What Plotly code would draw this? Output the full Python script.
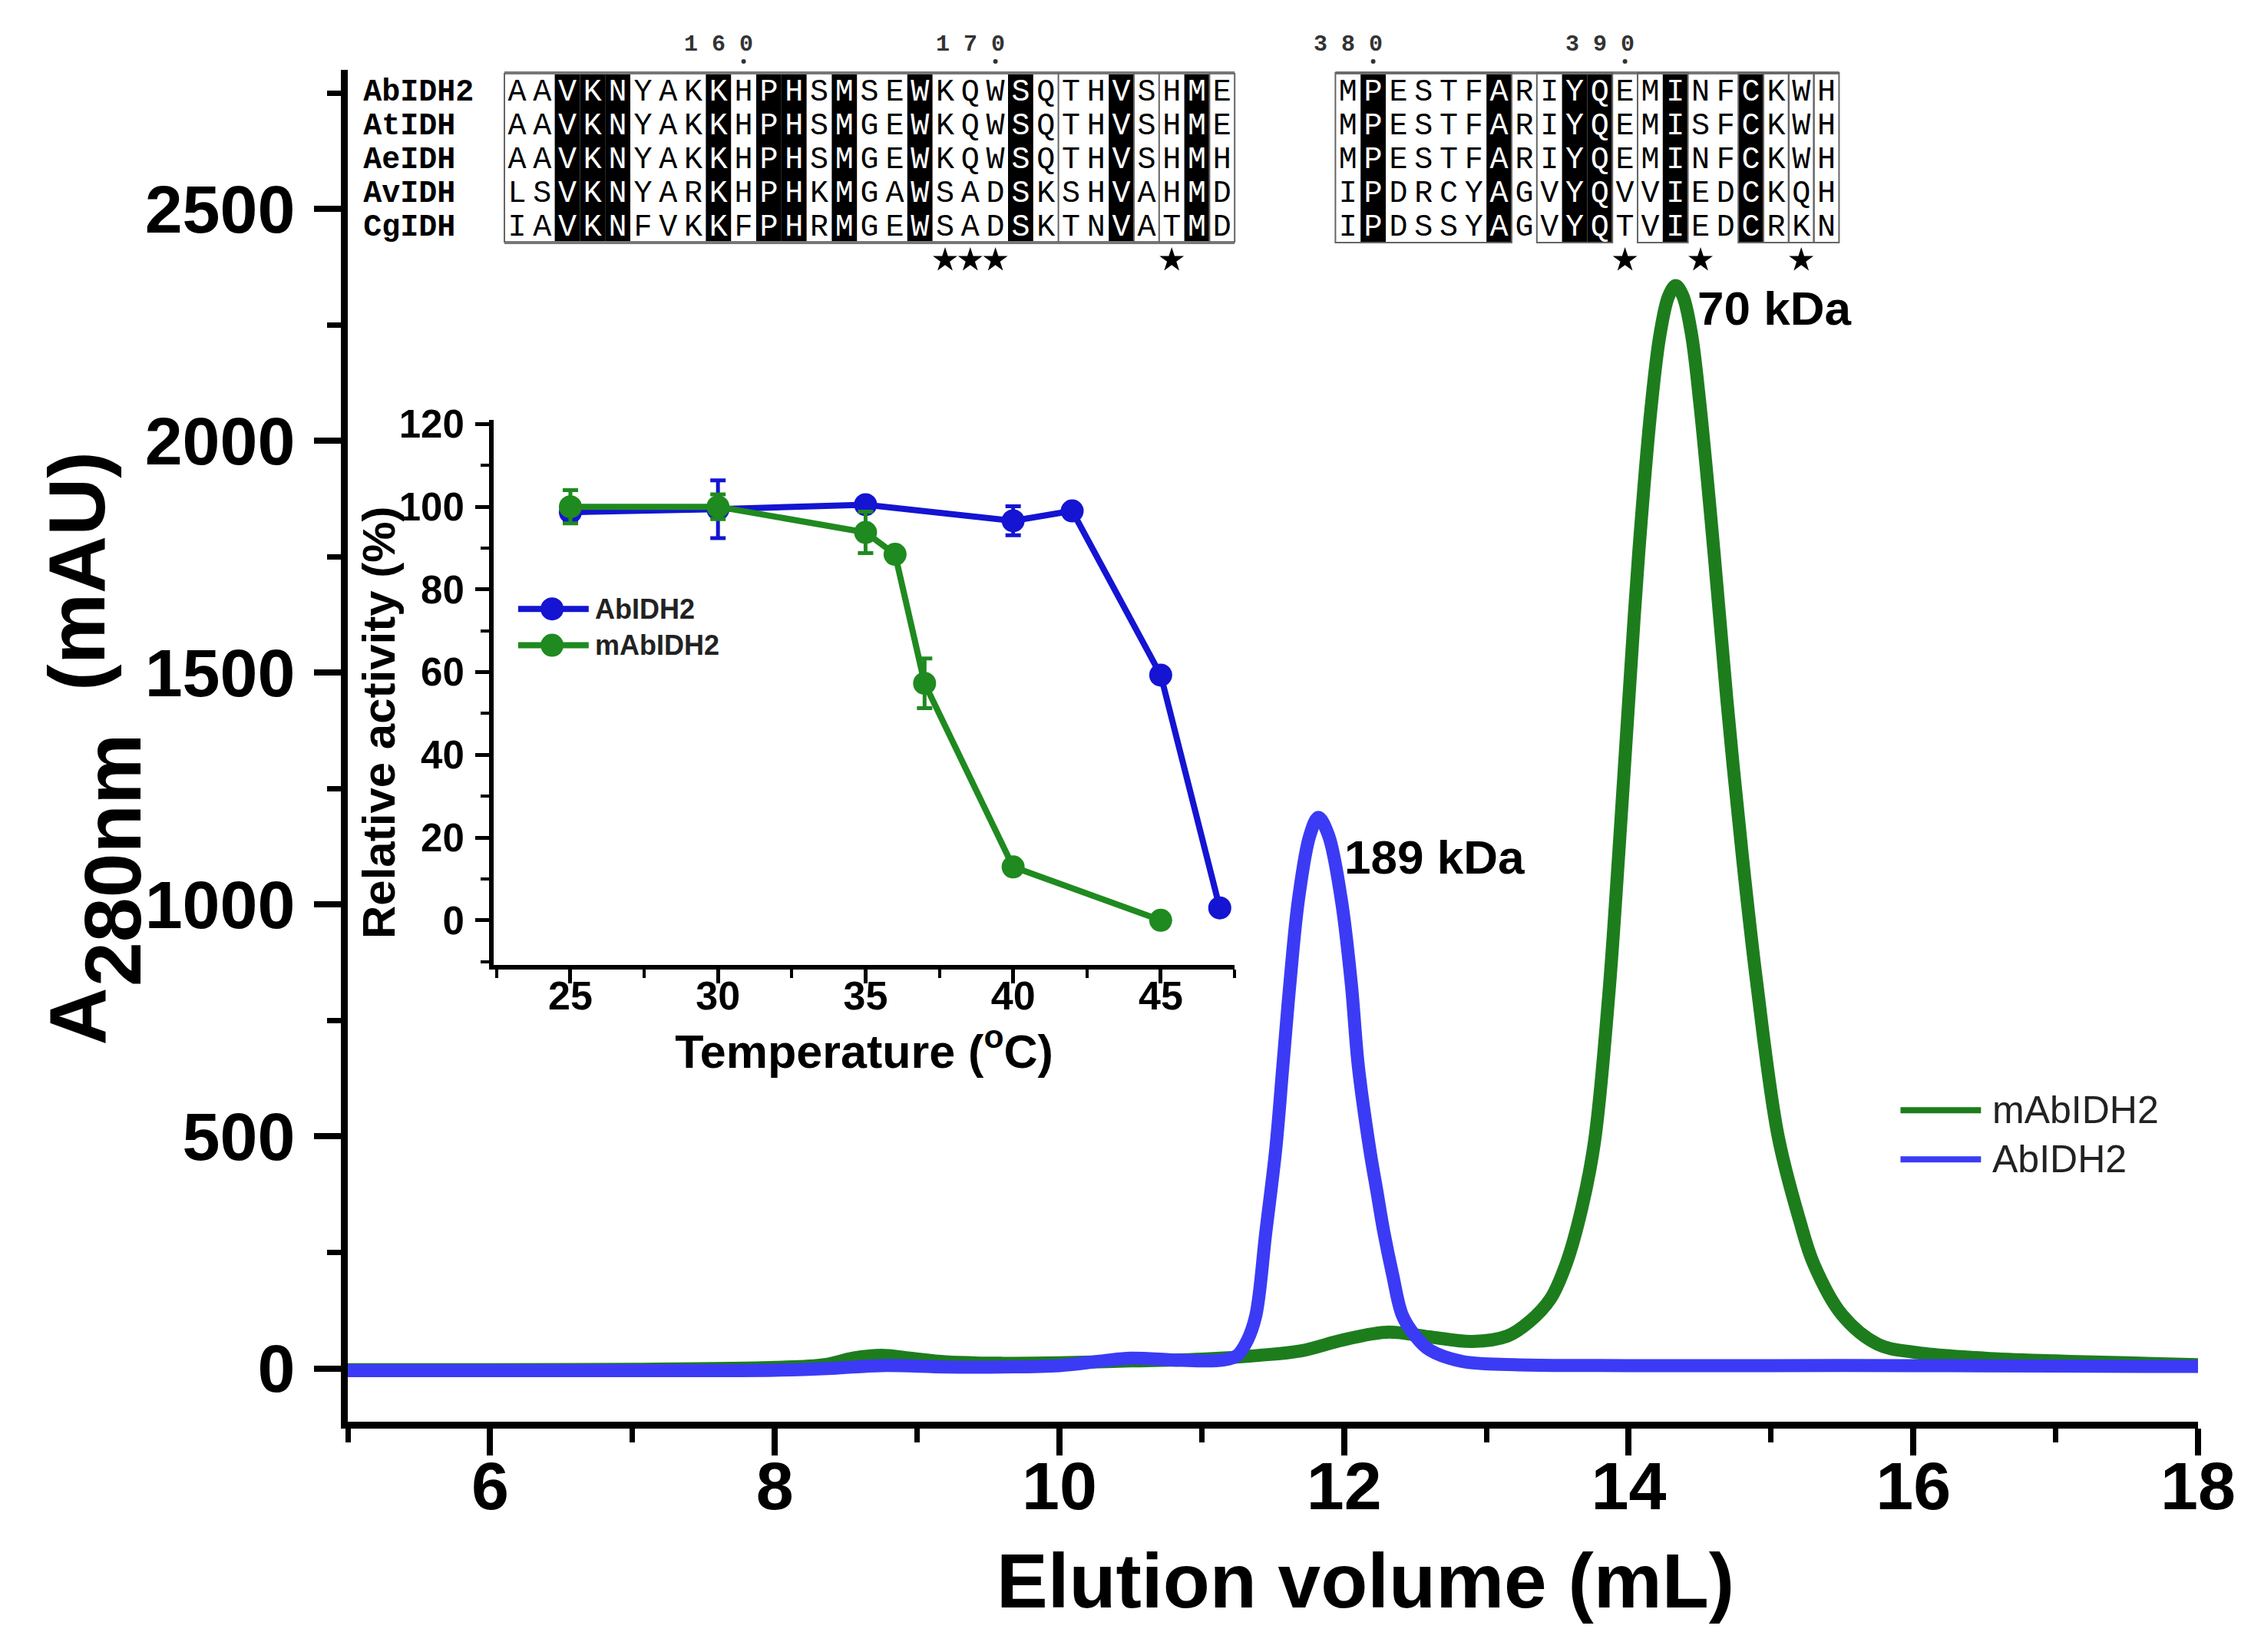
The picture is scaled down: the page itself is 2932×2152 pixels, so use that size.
import plotly.graph_objects as go

# size-exclusion profiles, A280 (mAU) vs elution volume (mL)
mut_vol = [5.0, 6.0, 7.0, 8.0, 8.35, 8.55, 8.75, 8.95, 9.2, 9.6, 10.0, 10.5, 11.0, 11.4, 11.7,
           12.0, 12.3, 12.6, 12.9, 13.15, 13.3, 13.45, 13.56, 13.67, 13.76, 13.86, 13.93, 14.0,
           14.07, 14.16, 14.22, 14.28, 14.33, 14.38, 14.44, 14.5, 14.6, 14.69, 14.8, 14.9, 15.05,
           15.2, 15.3, 15.5, 15.75, 16.0, 16.5, 17.0, 17.5, 18.0]
mut_a280 = [-3, -3, -2, 2, 8, 22, 28, 22, 14, 11, 12, 16, 20, 28, 38,
            62, 78, 68, 58, 70, 100, 150, 225, 345, 490, 806, 1110, 1440,
            1757, 2080, 2230, 2312, 2335, 2313, 2232, 2080, 1757, 1440, 1100, 830, 500,
            320, 225, 115, 52, 35, 22, 16, 12, 8]
wt_vol = [5.0, 6.0, 7.0, 8.0, 8.4, 8.75, 9.2, 9.6, 10.0, 10.3, 10.5, 10.8, 11.0, 11.15, 11.25,
          11.32, 11.38, 11.45, 11.52, 11.57, 11.62, 11.68, 11.76, 11.82, 11.89, 11.98, 12.05,
          12.1, 12.18, 12.23, 12.28, 12.34, 12.41, 12.5, 12.6, 12.83, 13.2, 14.0, 15.0, 16.0,
          17.0, 18.0]
wt_a280 = [-5, -5, -5, -4, 0, 6, 3, 3, 6, 16, 22, 18, 16, 18, 28,
           60, 114, 293, 473, 652, 832, 1012, 1150, 1188, 1150, 1012, 832,
           652, 473, 383, 293, 204, 114, 70, 40, 15, 8, 6, 6, 6,
           5, 4]

# inset: relative activity (%) after heat treatment
wt_temp = [25, 30, 35, 40, 42, 45, 47]
wt_act = [98.7, 99.4, 100.5, 96.6, 99.0, 59.3, 3.0]
wt_err = [2, 7, 1, 3.5, 1, 1, 0.5]
mut_temp = [25, 30, 35, 36, 37, 40, 45]
mut_act = [100, 100, 93.8, 88.5, 57.3, 12.9, 0]
mut_err = [4, 3, 5, 1, 6, 1, 0.5]

# partial alignment
seq_names = ["AbIDH2", "AtIDH", "AeIDH", "AvIDH", "CgIDH"]
seq_block1 = ["AAVKNYAKKHPHSMSEWKQWSQTHVSHME",
              "AAVKNYAKKHPHSMGEWKQWSQTHVSHME",
              "AAVKNYAKKHPHSMGEWKQWSQTHVSHMH",
              "LSVKNYARKHPHKMGAWSADSKSHVAHMD",
              "IAVKNFVKKFPHRMGEWSADSKTNVATMD"]
seq_block2 = ["MPESTFARIYQEMINFCKWH",
              "MPESTFARIYQEMISFCKWH",
              "MPESTFARIYQEMINFCKWH",
              "IPDRCYAGVYQVVIEDCKQH",
              "IPDSSYAGVYQTVIEDCRKN"]
first1, first2 = 151, 379
black1 = [2, 3, 4, 8, 10, 11, 13, 16, 20, 24, 27]
black2 = [1, 6, 9, 10, 13, 16]
edges1 = [0, 22, 25, 26, 28, 29]
boxes2 = [(0, 7), (8, 11), (12, 14), (16, 17), (17, 18), (18, 19), (19, 20)]
stars1 = [17, 18, 19, 26]
stars2 = [11, 14, 18]
ruler1 = [160, 170]
ruler2 = [380, 390]

GREEN = "#1d7d1d"
BLUE = "#3b3bf5"
IN_BLUE = "#1414d2"
IN_GREEN = "#1f8a1f"
FONT = "Liberation Sans, Arial, sans-serif"
MONO = "Liberation Mono, Courier New, monospace"
OFF = 33  # column offset of second block

# figure pixel frame used for paper placement
W, H = 2932, 2152
ML, MR, MT, MB = 445, 77, 83, 308
PW, PH = W - ML - MR, H - MT - MB
COL0, COLW = 649, 32.8  # first alignment column (px) and column width


def px_x(p):
    return (p - ML) / PW


def px_y(p):
    return (H - MB - p) / PH


fig = go.Figure()

# main curves
fig.add_trace(go.Scatter(x=mut_vol, y=mut_a280, mode="lines", name="mAbIDH2",
                         line=dict(color=GREEN, width=17, shape="spline", smoothing=1.0)))
fig.add_trace(go.Scatter(x=wt_vol, y=wt_a280, mode="lines", name="AbIDH2",
                         line=dict(color=BLUE, width=17, shape="spline", smoothing=1.0)))

# inset curves
fig.add_trace(go.Scatter(x=wt_temp, y=wt_act, xaxis="x2", yaxis="y2", mode="lines+markers",
                         name="AbIDH2", line=dict(color=IN_BLUE, width=8),
                         marker=dict(size=30, color=IN_BLUE),
                         error_y=dict(type="data", array=wt_err, color=IN_BLUE, thickness=5, width=10),
                         cliponaxis=False))
fig.add_trace(go.Scatter(x=mut_temp, y=mut_act, xaxis="x2", yaxis="y2", mode="lines+markers",
                         name="mAbIDH2", line=dict(color=IN_GREEN, width=8),
                         marker=dict(size=30, color=IN_GREEN),
                         error_y=dict(type="data", array=mut_err, color=IN_GREEN, thickness=5, width=10),
                         cliponaxis=False))

# alignment letters
xs, ys, txt, cols = [], [], [], []
for r in range(len(seq_names)):
    for c, ch in enumerate(seq_block1[r]):
        xs.append(c + 0.5); ys.append(r); txt.append(ch)
        cols.append("white" if c in black1 else "black")
    for c, ch in enumerate(seq_block2[r]):
        xs.append(OFF + c + 0.5); ys.append(r); txt.append(ch)
        cols.append("white" if c in black2 else "black")
fig.add_trace(go.Scatter(x=xs, y=ys, text=txt, mode="text", xaxis="x3", yaxis="y3",
                         textfont=dict(family=MONO, size=40, color=cols), cliponaxis=False,
                         hoverinfo="skip"))
fig.add_trace(go.Scatter(x=[-5.6] * len(seq_names), y=list(range(len(seq_names))), text=seq_names,
                         mode="text", textposition="middle right", xaxis="x3", yaxis="y3",
                         textfont=dict(family=MONO, size=40, color="black", weight="bold"),
                         cliponaxis=False, hoverinfo="skip"))
star_x = [c + 0.5 for c in stars1] + [OFF + c + 0.5 for c in stars2]
fig.add_trace(go.Scatter(x=star_x, y=[4.95] * len(star_x), mode="markers", xaxis="x3", yaxis="y3",
                         marker=dict(symbol="star", size=24, color="black"), cliponaxis=False,
                         hoverinfo="skip"))

shapes = []
TOP, BOT = -0.59, 4.43
for c in black1:
    shapes.append(dict(type="rect", xref="x3", yref="y3", x0=c, x1=c + 1, y0=TOP, y1=BOT,
                       fillcolor="black", line_width=0, layer="below"))
for c in black2:
    shapes.append(dict(type="rect", xref="x3", yref="y3", x0=OFF + c, x1=OFF + c + 1, y0=TOP, y1=BOT,
                       fillcolor="black", line_width=0, layer="below"))
for y in (TOP, BOT):
    shapes.append(dict(type="line", xref="x3", yref="y3", x0=0, x1=len(seq_block1[0]), y0=y, y1=y,
                       line=dict(color="#777", width=4)))
shapes.append(dict(type="line", xref="x3", yref="y3", x0=OFF, x1=OFF + len(seq_block2[0]),
                   y0=TOP, y1=TOP, line=dict(color="#777", width=4)))
for e in edges1:
    shapes.append(dict(type="line", xref="x3", yref="y3", x0=e, x1=e, y0=TOP, y1=BOT,
                       line=dict(color="#666", width=2)))
for a, b in boxes2:
    shapes.append(dict(type="rect", xref="x3", yref="y3", x0=OFF + a, x1=OFF + b, y0=TOP, y1=BOT,
                       line=dict(color="#666", width=2)))

annotations = []

# ruler numbers + dots above the alignment (they sit in the top margin)
rul_c = [n - first1 for n in ruler1] + [OFF + n - first2 for n in ruler2]
for c, n in zip(rul_c, ruler1 + ruler2):
    annotations.append(dict(text=" ".join(str(n)), x=px_x(COL0 + (c - 0.5) * COLW), y=px_y(50),
                            xref="paper", yref="paper", xanchor="center", yanchor="middle",
                            showarrow=False,
                            font=dict(family=MONO, size=30, color="#333", weight="bold")))
    shapes.append(dict(type="circle", xref="paper", yref="paper", xsizemode="pixel",
                       ysizemode="pixel", xanchor=px_x(COL0 + (c + 0.5) * COLW), yanchor=px_y(72),
                       x0=-3, x1=3, y0=-3, y1=3, fillcolor="#333", line_width=0))

# main legend (long line samples)
for name, col, yp in (("mAbIDH2", GREEN, 0.2304), ("AbIDH2", BLUE, 0.1940)):
    shapes.append(dict(type="line", xref="paper", yref="paper", x0=0.8392, x1=0.8827, y0=yp, y1=yp,
                       line=dict(color=col, width=8)))
    annotations.append(dict(text=name, x=0.8881, y=yp, xref="paper", yref="paper", xanchor="left",
                            yanchor="middle", showarrow=False, font=dict(size=50, color="#222")))
# inset legend
for name, col, yv in (("AbIDH2", IN_BLUE, 75.3), ("mAbIDH2", IN_GREEN, 66.5)):
    shapes.append(dict(type="line", xref="x2", yref="y2", x0=23.23, x1=25.62, y0=yv, y1=yv,
                       line=dict(color=col, width=8)))
    shapes.append(dict(type="circle", xref="x2", yref="y2", xsizemode="pixel", ysizemode="pixel",
                       xanchor=24.38, yanchor=yv, x0=-15, x1=15, y0=-15, y1=15,
                       fillcolor=col, line_width=0))
    annotations.append(dict(text=name, x=25.78, y=yv, xref="x2", yref="y2", xanchor="left",
                            yanchor="middle", showarrow=False,
                            font=dict(size=36, weight="bold", color="#222")))

annotations += [
    dict(text="189 kDa", x=11.99, y=1102, xref="x", yref="y", xanchor="left", yanchor="middle",
         showarrow=False, font=dict(size=62, weight="bold", color="black")),
    dict(text="70 kDa", x=14.47, y=2286, xref="x", yref="y", xanchor="left", yanchor="middle",
         showarrow=False, font=dict(size=62, weight="bold", color="black")),
    dict(text="Elution volume (mL)", x=px_x(1770), y=px_y(2051), xref="paper", yref="paper",
         xanchor="center", yanchor="middle", showarrow=False,
         font=dict(size=100, weight="bold", color="black")),
    dict(text="Relative activity (%)", x=px_x(485), y=px_y(933), xref="paper", yref="paper",
         xanchor="center", yanchor="middle", textangle=-90, showarrow=False,
         font=dict(size=60, weight="bold", color="black")),
]
# main y title: A, full-size subscript 280nm, (mAU)
for t, cx, ybot in (("A", 92, 1355), ("280nm", 139, 1278), ("(mAU)", 92, 893)):
    annotations.append(dict(text=t, x=px_x(cx), y=px_y(ybot), xref="paper", yref="paper",
                            xanchor="center", yanchor="bottom", textangle=-90, showarrow=False,
                            borderpad=0, font=dict(size=104, weight="bold", color="black")))

axis_common = dict(showgrid=False, zeroline=False, showline=True, linecolor="black",
                   ticks="outside", tickcolor="black", mirror=False)

fig.update_layout(
    width=W, height=H,
    margin=dict(l=ML, r=MR, t=MT, b=MB),
    paper_bgcolor="white", plot_bgcolor="rgba(0,0,0,0)",
    font=dict(family=FONT, color="black"),
    showlegend=False,
    xaxis=dict(axis_common, range=[5, 18], dtick=2, tick0=0, linewidth=9, ticklen=35, tickwidth=8,
               tickfont=dict(size=88, weight="bold"), ticklabelstandoff=-36,
               minor=dict(dtick=1, tick0=0, ticks="outside", ticklen=18, tickwidth=7, tickcolor="black")),
    yaxis=dict(axis_common, range=[-115, 2800], dtick=500, tick0=0, linewidth=9, ticklen=35,
               tickwidth=8, tickfont=dict(size=88, weight="bold"), ticklabelstandoff=7,
               minor=dict(dtick=250, tick0=0, ticks="outside", ticklen=18, tickwidth=7, tickcolor="black")),
    xaxis2=dict(axis_common, domain=[px_x(635), px_x(1600)], anchor="y2", range=[22.4, 47.5], dtick=5,
                tick0=0, linewidth=6, ticklen=18, tickwidth=5, tickfont=dict(size=52, weight="bold"),
                ticklabelstandoff=-28,
                title=dict(text="Temperature (<sup>o</sup>C)", standoff=10,
                           font=dict(size=61, weight="bold")),
                minor=dict(dtick=2.5, tick0=0, ticks="outside", ticklen=11, tickwidth=4, tickcolor="black")),
    yaxis2=dict(axis_common, domain=[px_y(1248.5), px_y(539)], anchor="x2", range=[-10.7, 121], dtick=20,
                tick0=0, linewidth=6, ticklen=18, tickwidth=5, tickfont=dict(size=51, weight="bold"),
                ticklabelstandoff=4,
                minor=dict(dtick=10, tick0=0, ticks="outside", ticklen=11, tickwidth=4, tickcolor="black")),
    xaxis3=dict(domain=[0, 1], anchor="y3", range=[-(COL0 - ML) / COLW, (PW - (COL0 - ML)) / COLW],
                visible=False),
    yaxis3=dict(domain=[0, 1], anchor="x3", range=[(PH + MT - 113) / 44, (MT - 113) / 44],
                visible=False),
    shapes=shapes,
    annotations=annotations,
)

fig.write_html("out.html")
